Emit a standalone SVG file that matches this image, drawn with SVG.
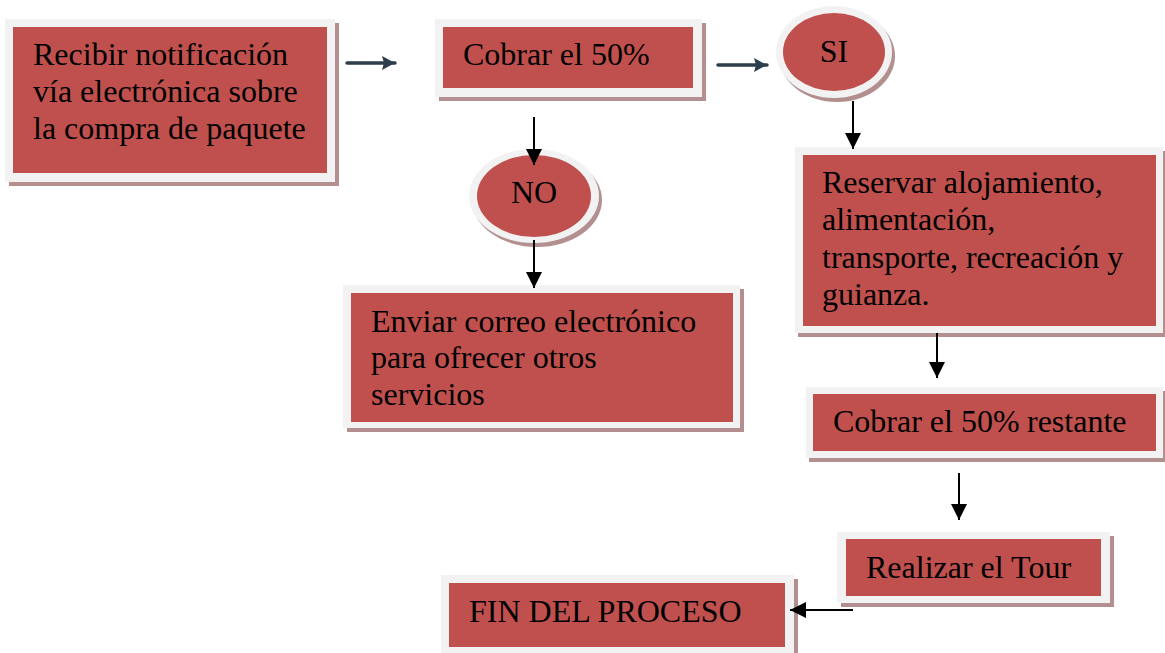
<svg xmlns="http://www.w3.org/2000/svg" width="1165" height="653" viewBox="0 0 1165 653">
<style>
.sh{fill:#b38f8f}
.fr{fill:#f2f2f2}
.bx{fill:#c0504d}
.t{font-family:"Liberation Serif","Times New Roman",serif;font-size:32px;fill:#000}
.c{text-anchor:middle}
.blk{stroke:#000;stroke-width:2;fill:none}
.drk{stroke:#2e3d4c;stroke-width:3.5;fill:none;stroke-linecap:round}
</style>
<defs>
<marker id="ah" markerUnits="userSpaceOnUse" markerWidth="16" markerHeight="16" refX="16" refY="8" orient="auto">
<path d="M0,0 L16,8 L0,16 Z" fill="#000"/>
</marker>
<marker id="ad" markerUnits="userSpaceOnUse" markerWidth="14" markerHeight="16" refX="13" refY="7" orient="auto">
<path d="M0,0 L13,7 L0,14 L2,7 Z" fill="#2e3d4c"/>
</marker>
</defs>
<rect width="1165" height="653" fill="#fff"/>
<g id="n1">
<rect class="sh" x="9" y="23" width="330" height="163"/>
<rect class="fr" x="5" y="19" width="330" height="163"/>
<rect class="bx" x="13" y="27" width="314" height="146"/>
<text class="t" x="33" y="65">Recibir notificación</text>
<text class="t" x="33" y="102">vía electrónica sobre</text>
<text class="t" x="33" y="139">la compra de paquete</text>
</g>
<g id="n2">
<rect class="sh" x="439" y="23" width="267" height="78"/>
<rect class="fr" x="435" y="19" width="267" height="78"/>
<rect class="bx" x="443" y="27" width="250" height="61"/>
<text class="t" x="463" y="65">Cobrar el 50%</text>
</g>
<g id="si">
<ellipse class="sh" cx="837" cy="56" rx="58" ry="46"/>
<ellipse class="fr" cx="834" cy="52" rx="58" ry="46"/>
<ellipse class="bx" cx="834" cy="52" rx="51" ry="39"/>
<text class="t c" x="834" y="62">SI</text>
</g>
<g id="no">
<ellipse class="sh" cx="537" cy="200" rx="65" ry="47"/>
<ellipse class="fr" cx="534" cy="196" rx="65" ry="47"/>
<ellipse class="bx" cx="534" cy="196" rx="57" ry="41"/>
<text class="t c" x="534" y="203">NO</text>
</g>
<g id="enviar">
<rect class="sh" x="347" y="289" width="397" height="143"/>
<rect class="fr" x="343" y="285" width="397" height="143"/>
<rect class="bx" x="351" y="293" width="382" height="129"/>
<text class="t" x="371" y="332">Enviar correo electrónico</text>
<text class="t" x="371" y="368">para ofrecer otros</text>
<text class="t" x="371" y="405">servicios</text>
</g>
<g id="reservar">
<rect class="sh" x="798" y="151" width="367" height="186"/>
<rect class="fr" x="795" y="147" width="368" height="186"/>
<rect class="bx" x="803" y="155" width="353" height="171"/>
<text class="t" x="822" y="193">Reservar alojamiento,</text>
<text class="t" x="822" y="230">alimentación,</text>
<text class="t" x="822" y="268">transporte, recreación y</text>
<text class="t" x="822" y="305">guianza.</text>
</g>
<g id="restante">
<rect class="sh" x="809" y="391" width="356" height="71"/>
<rect class="fr" x="806" y="387" width="357" height="71"/>
<rect class="bx" x="813" y="394" width="343" height="57"/>
<text class="t" x="833" y="432">Cobrar el 50%<tspan x="1027">restante</tspan></text>
</g>
<g id="tour">
<rect class="sh" x="841" y="536" width="273" height="71"/>
<rect class="fr" x="837" y="532" width="273" height="71"/>
<rect class="bx" x="846" y="539" width="255" height="57"/>
<text class="t" x="866" y="578">Realizar el Tour</text>
</g>
<g id="fin">
<rect class="sh" x="445" y="579" width="353" height="78"/>
<rect class="fr" x="441" y="575" width="353" height="78"/>
<rect class="bx" x="449" y="583" width="336" height="64"/>
<text class="t" x="469" y="622">FIN DEL PROCESO</text>
</g>
<g id="connectors">
<line class="drk" x1="347" y1="63" x2="395" y2="63" marker-end="url(#ad)"/>
<line class="drk" x1="718" y1="65" x2="767" y2="65" marker-end="url(#ad)"/>
<line class="blk" x1="534" y1="117" x2="534" y2="165" marker-end="url(#ah)"/>
<line class="blk" x1="534" y1="240" x2="534" y2="288" marker-end="url(#ah)"/>
<line class="blk" x1="853" y1="101" x2="853" y2="149" marker-end="url(#ah)"/>
<line class="blk" x1="937" y1="333" x2="937" y2="378" marker-end="url(#ah)"/>
<line class="blk" x1="959" y1="473" x2="959" y2="520" marker-end="url(#ah)"/>
<line class="blk" x1="853" y1="610" x2="790" y2="610" marker-end="url(#ah)"/>
</g>
</svg>
